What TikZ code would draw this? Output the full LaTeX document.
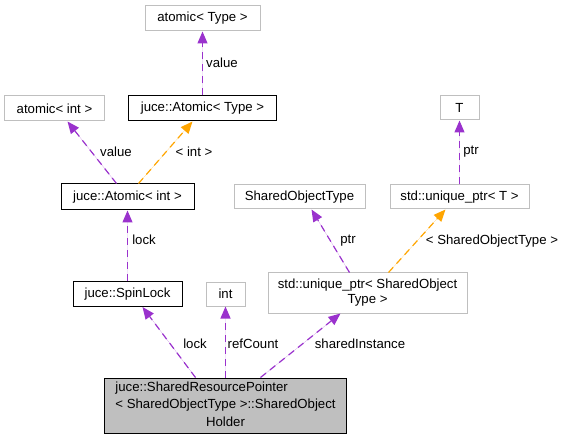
\documentclass[tikz,border=0pt]{standalone}
\usepackage{fontspec}
\setmainfont{Liberation Sans}
\usetikzlibrary{arrows.meta}
\definecolor{edgepurple}{HTML}{9A32CD}
\definecolor{edgeorange}{HTML}{FFA500}
\definecolor{boxgray}{HTML}{BFBFBF}
\begin{document}
\begin{tikzpicture}[x=1bp,y=-1bp,
  every node/.style={font=\fontsize{13.2bp}{15bp}\selectfont, inner sep=0pt},
  gbox/.style={draw=boxgray, line width=1bp, fill=white, rectangle, align=center},
  kbox/.style={draw=black, line width=1bp, fill=white, rectangle, align=center},
  hbox/.style={draw=black, line width=1bp, fill=boxgray, rectangle},
  pedge/.style={draw=edgepurple, fill=edgepurple, line width=1.2bp, dash pattern=on 7bp off 5bp, -{Triangle[length=12bp,width=10bp]}},
  oedge/.style={draw=edgeorange, fill=edgeorange, line width=1.2bp, dash pattern=on 7bp off 5bp, -{Triangle[length=12bp,width=10bp]}},
  elabel/.style={font=\fontsize{13.2bp}{15bp}\selectfont}
]
\useasboundingbox (0,0) rectangle (565,439);

\node[gbox, minimum width=115bp, minimum height=25bp] (aT) at (202.5,18.5) {atomic< Type >};
\node[gbox, minimum width=99bp, minimum height=25bp] (ai) at (54.5,108.5) {atomic< int >};
\node[kbox, minimum width=148bp, minimum height=25bp] (AT) at (202.5,108.5) {juce::Atomic< Type >};
\node[kbox, minimum width=133bp, minimum height=26bp] (AI) at (127.5,197) {juce::Atomic< int >};
\node[gbox, minimum width=39bp, minimum height=24bp] (T) at (459.5,108) {T};
\node[gbox, minimum width=131bp, minimum height=24bp] (SOT) at (299.5,197) {SharedObjectType};
\node[gbox, minimum width=139bp, minimum height=24bp] (UT) at (459.5,197) {std::unique\_ptr< T >};
\node[kbox, minimum width=109bp, minimum height=25bp] (SL) at (127.5,294) {juce::SpinLock};
\node[gbox, minimum width=39bp, minimum height=24bp] (INT) at (225.5,294) {int};
\node[gbox, minimum width=199bp, minimum height=40bp] (U) at (367.5,293) {std::unique\_ptr< SharedObject\\Type >};
\node[hbox, minimum width=242bp, minimum height=55bp] (H) at (225.5,405.5) {\renewcommand\arraystretch{1.14}\begin{tabular}{@{}l@{}}juce::SharedResourcePointer\\< SharedObjectType >::SharedObject\\\multicolumn{1}{@{}c@{}}{Holder}\end{tabular}};

\draw[pedge] (AT.north) -- (aT.south);
\draw[pedge] ([xshift=-11bp]AI.north) -- ([xshift=13bp]ai.south);
\draw[oedge] ([xshift=11bp]AI.north) -- ([xshift=-10bp]AT.south);
\draw[pedge] (SL.north) -- (AI.south);
\draw[pedge] ([xshift=-30bp]H.north) -- ([xshift=15bp]SL.south);
\draw[pedge] (H.north) -- (INT.south);
\draw[pedge] ([xshift=35bp]H.north) -- ([xshift=-27bp]U.south);
\draw[pedge] ([xshift=-18bp]U.north) -- ([xshift=12bp]SOT.south);
\draw[oedge] ([xshift=21bp]U.north) -- ([xshift=-14bp]UT.south);
\draw[pedge] (UT.north) -- (T.south);

\node[elabel] (l1) at (222,63) {value};
\node[elabel] (l2) at (116,152) {value};
\node[elabel] (l3) at (194,152) {< int >};
\node[elabel] (l4) at (144,240) {lock};
\node[elabel] (l5) at (348,241) {ptr};
\node[elabel] (l6) at (492,241) {< SharedObjectType >};
\node[elabel] (l7) at (471,152) {ptr};
\node[elabel] (l8) at (195,344) {lock};
\node[elabel] (l9) at (253,344) {refCount};
\node[elabel] (l10) at (360,344) {sharedInstance};
\end{tikzpicture}
\end{document}
